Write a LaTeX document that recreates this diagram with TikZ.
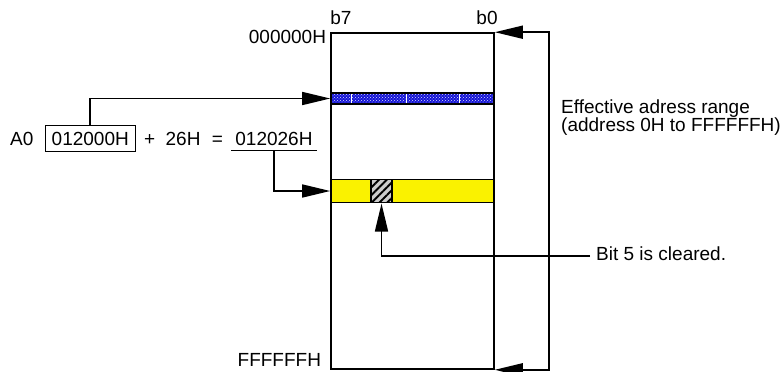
\documentclass[tikz,border=0pt]{standalone}
\usepackage{fontspec}
\setmainfont{Liberation Sans}
\usepackage{xcolor}
\usetikzlibrary{arrows.meta, positioning, calc, patterns, patterns.meta}
\definecolor{barblue}{RGB}{20,20,215}
\definecolor{baryellow}{RGB}{250,242,0}

\begin{document}
\begin{tikzpicture}[
  x=1pt, y=-1pt,
  every node/.style={font=\fontsize{19}{18}\selectfont, inner sep=0pt},
  mem/.style={rectangle, draw=black, line width=1.6pt, minimum width=163pt, minimum height=336pt},
  bar/.style={rectangle, draw=black, line width=1.6pt, minimum width=163pt},
  bx/.style={rectangle, draw=black, line width=1.3pt, minimum width=90pt, minimum height=26pt},
  arr/.style={-{Triangle[length=28pt,width=13pt]}, line width=1.6pt},
  arrs/.style={{Triangle[length=28pt,width=13pt]}-{Triangle[length=28pt,width=13pt]}, line width=1.6pt},
]
\clip (0,0) rectangle (782,372);
\node[mem] (mem) at (412.5,201) {};
\node[bar, minimum height=11pt, preaction={fill=barblue}, pattern=crosshatch dots, pattern color=white!85!barblue] (blue) at (412.5,98.5) {};
\foreach \x in {351,406,459}
  \draw[white, line width=0.8pt] (\x,94) -- (\x,103);
\node[bar, minimum height=23pt, fill=baryellow] (yel) at (412.5,191) {};
\node[rectangle, draw=black, line width=1.3pt, minimum width=21pt, minimum height=23pt,
      preaction={fill=gray!40}, pattern={Lines[angle=45,distance=5.5pt,line width=2pt]}, pattern color=black] (bit5) at (381.5,191) {};

\node[anchor=base west] (b7) at ([yshift=8pt]mem.north west) {b7};
\node[anchor=base east] (b0) at ([xshift=3pt,yshift=8pt]mem.north east) {b0};
\node[anchor=base east] (top) at ([xshift=-4pt,yshift=-11pt]mem.north west) {000000H};
\node[anchor=base east] (bot) at ([xshift=-9pt,yshift=3pt]mem.south west) {FFFFFFH};

\node[anchor=base west] (a0) at (10,145) {A0};
\node[bx, base right=11pt of a0] (addr) {012000H};
\node[base right=8pt of addr] (plus) {+};
\node[base right=10pt of plus] (off) {26H};
\node[base right=11pt of off] (eq) {=};
\node[inner xsep=4pt, inner ysep=5pt, base right=8pt of eq] (sum) {012026H};

\node[anchor=north west, align=left] (range) at (561,100) {Effective adress range\\(address 0H to FFFFFFH)};
\node[anchor=west, inner xsep=6pt, text height=8pt, text depth=0pt] (note) at (590,256) {Bit 5 is cleared.};

\draw[line width=1.3pt] (sum.south west) -- (sum.south east);
\draw[arr] (addr.north) |- (blue.west);
\draw[arr] (sum.south) |- (yel.west);
\draw[arr] (note.west) -| (bit5.south);
\draw[arrs] (mem.north east) -- ++(54,0) |- (mem.south east);
\end{tikzpicture}
\end{document}
